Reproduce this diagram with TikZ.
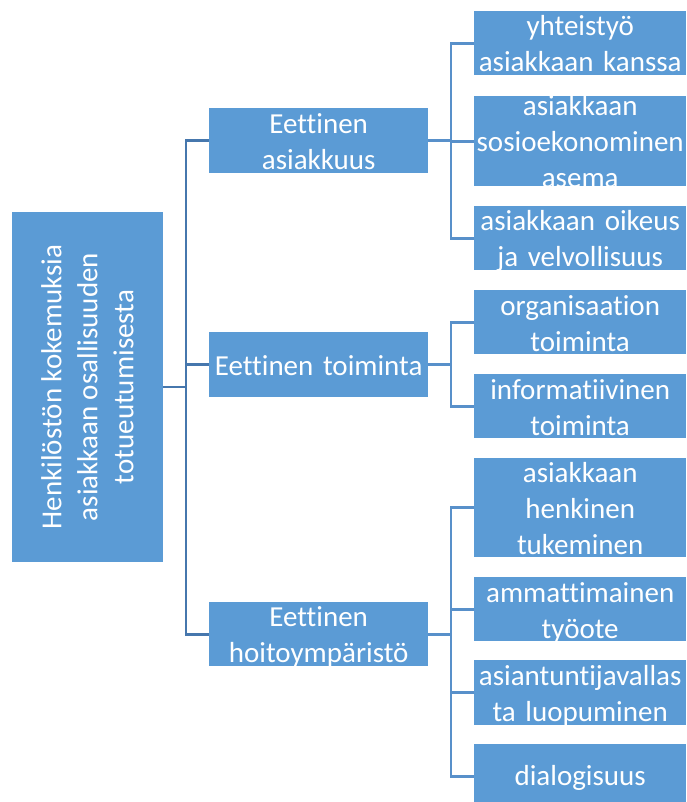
\documentclass[tikz,border=0pt]{standalone}
\usepackage{fontspec}
\setmainfont{Carlito}[Ligatures={NoCommon}]
\definecolor{boxc}{HTML}{5B9BD5}
\definecolor{trunkc}{HTML}{4677AD}
\definecolor{branchc}{HTML}{5890CA}
\hyphenpenalty=10000
\exhyphenpenalty=10000

\begin{document}
\begin{tikzpicture}[x=1pt, y=-1pt,
  box/.style={fill=boxc, text=white, inner sep=0pt, align=center, anchor=north west, font=\fontsize{29}{36}\selectfont},
  midbox/.style={box, text width=219pt},
  leafbox/.style={box, text width=212pt},
  trunk/.style={trunkc, line width=2.8pt},
  branch/.style={branchc, line width=2.8pt}]
  \useasboundingbox (0,0) rectangle (686,802);

  % root
  \node[fill=boxc, inner sep=0pt, minimum width=151pt, minimum height=350pt] (root) at (87.5,387) {};
  \node[rotate=90, text=white, align=center, inner sep=0pt, font=\fontsize{29}{36}\selectfont] (roottext) at (root.center)
    {Henkilöstön kokemuksia\\asiakkaan osallisuuden\\totueutumisesta};

  % middle level
  \node[midbox, text height=25pt, text depth=40pt] (asiakkuus) at (209,108) {Eettinen\\asiakkuus};
  \node[midbox, text height=43pt, text depth=22pt] (toiminta) at (209,332) {Eettinen toiminta};
  \node[midbox, text height=24pt, text depth=40pt] (ymparisto) at (209,602) {Eettinen\\hoitoympäristö};

  % leaves
  \node[leafbox, text height=24pt, text depth=40pt] (yhteistyo) at (474,11) {yhteistyö\\asiakkaan kanssa};
  \node[leafbox, text height=19pt, text depth=71pt] (asema) at (474,96) {asiakkaan\\sosioekonominen\\asema};
  \node[leafbox, text height=24pt, text depth=40pt] (oikeus) at (474,206) {asiakkaan oikeus\\ja velvollisuus};
  \node[leafbox, text height=25pt, text depth=39pt] (organisaatio) at (474,290) {organisaation\\toiminta};
  \node[leafbox, text height=25pt, text depth=39pt] (informatiivinen) at (474,374) {informatiivinen\\toiminta};
  \node[leafbox, text height=24pt, text depth=75pt] (tukeminen) at (474,458) {asiakkaan\\henkinen\\tukeminen};
  \node[leafbox, text height=25pt, text depth=39pt] (tyoote) at (474,577) {ammattimainen\\työote};
  \node[leafbox, text height=25pt, text depth=40pt] (luopuminen) at (474,660) {asiantuntijavallas\\ta luopuminen};
  \node[leafbox, text height=41pt, text depth=23pt] (dialogisuus) at (474,744) {dialogisuus};

  % connectors
  \coordinate (fork) at (186,387);
  \draw[trunk] (root.east) -- (fork);
  \draw[trunk] (asiakkuus.west) -| (fork) |- (ymparisto.west);
  \draw[trunk] (toiminta.west) -- (toiminta.west -| fork);

  \draw[branch] (asiakkuus.east) -- ++(23,0);
  \draw[branch] (yhteistyo.west) -- ++(-23,0) |- (oikeus.west);
  \draw[branch] (asema.west) -- ++(-23,0);

  \draw[branch] (toiminta.east) -- ++(23,0);
  \draw[branch] (organisaatio.west) -- ++(-23,0) |- (informatiivinen.west);

  \draw[branch] (ymparisto.east) -- ++(23,0);
  \draw[branch] (tukeminen.west) -- ++(-23,0) |- (dialogisuus.west);
  \draw[branch] (tyoote.west) -- ++(-23,0);
  \draw[branch] (luopuminen.west) -- ++(-23,0);
\end{tikzpicture}
\end{document}
